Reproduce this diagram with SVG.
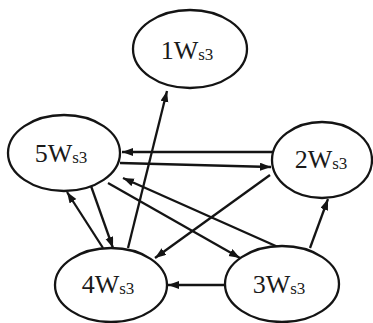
<svg xmlns="http://www.w3.org/2000/svg" width="373" height="323" viewBox="0 0 373 323">
  <style>
    .node ellipse { fill: #ffffff; stroke: #141414; stroke-width: 2.3; }
    .lbl { font-family: "Liberation Serif", "Times New Roman", serif; font-size: 26px; fill: #1a1a1a; text-anchor: middle; }
    .sub { font-size: 17px; }
    .edge { stroke: #141414; stroke-width: 2.3; fill: none; marker-end: url(#head); }
  </style>
  <defs>
    <marker id="head" markerUnits="userSpaceOnUse" markerWidth="12" markerHeight="10" refX="11" refY="4" orient="auto">
      <path d="M0,0 L11,4 L0,8 Z" fill="#141414"/>
    </marker>
  </defs>
  <rect width="373" height="323" fill="#ffffff"/>

  <g id="connectors">
    <line class="edge" x1="273" y1="152" x2="122" y2="152"/>
    <line class="edge" x1="120" y1="163" x2="271" y2="167"/>
    <line class="edge" x1="128" y1="248" x2="167" y2="91"/>
    <line class="edge" x1="278" y1="247" x2="123" y2="178"/>
    <line class="edge" x1="108" y1="183" x2="240" y2="258"/>
    <line class="edge" x1="270" y1="175" x2="155" y2="258"/>
    <line class="edge" x1="310" y1="248" x2="328" y2="199"/>
    <line class="edge" x1="225" y1="285" x2="168" y2="285"/>
    <line class="edge" x1="103" y1="248" x2="67" y2="192"/>
    <line class="edge" x1="91" y1="186" x2="113" y2="248"/>
  </g>

  <g id="node-1" class="node">
    <ellipse cx="190" cy="49" rx="57" ry="39"/>
    <text class="lbl" x="187" y="59">1W<tspan class="sub" dy="1">s3</tspan></text>
  </g>
  <g id="node-5" class="node">
    <ellipse cx="64" cy="153" rx="56" ry="38"/>
    <text class="lbl" x="61" y="162">5W<tspan class="sub" dy="1">s3</tspan></text>
  </g>
  <g id="node-2" class="node">
    <ellipse cx="322" cy="160" rx="50" ry="38"/>
    <text class="lbl" x="321" y="168">2W<tspan class="sub" dy="1">s3</tspan></text>
  </g>
  <g id="node-4" class="node">
    <ellipse cx="111" cy="285" rx="56" ry="37"/>
    <text class="lbl" x="108" y="293">4W<tspan class="sub" dy="1">s3</tspan></text>
  </g>
  <g id="node-3" class="node">
    <ellipse cx="282" cy="284" rx="57" ry="38"/>
    <text class="lbl" x="279" y="293">3W<tspan class="sub" dy="1">s3</tspan></text>
  </g>
</svg>
